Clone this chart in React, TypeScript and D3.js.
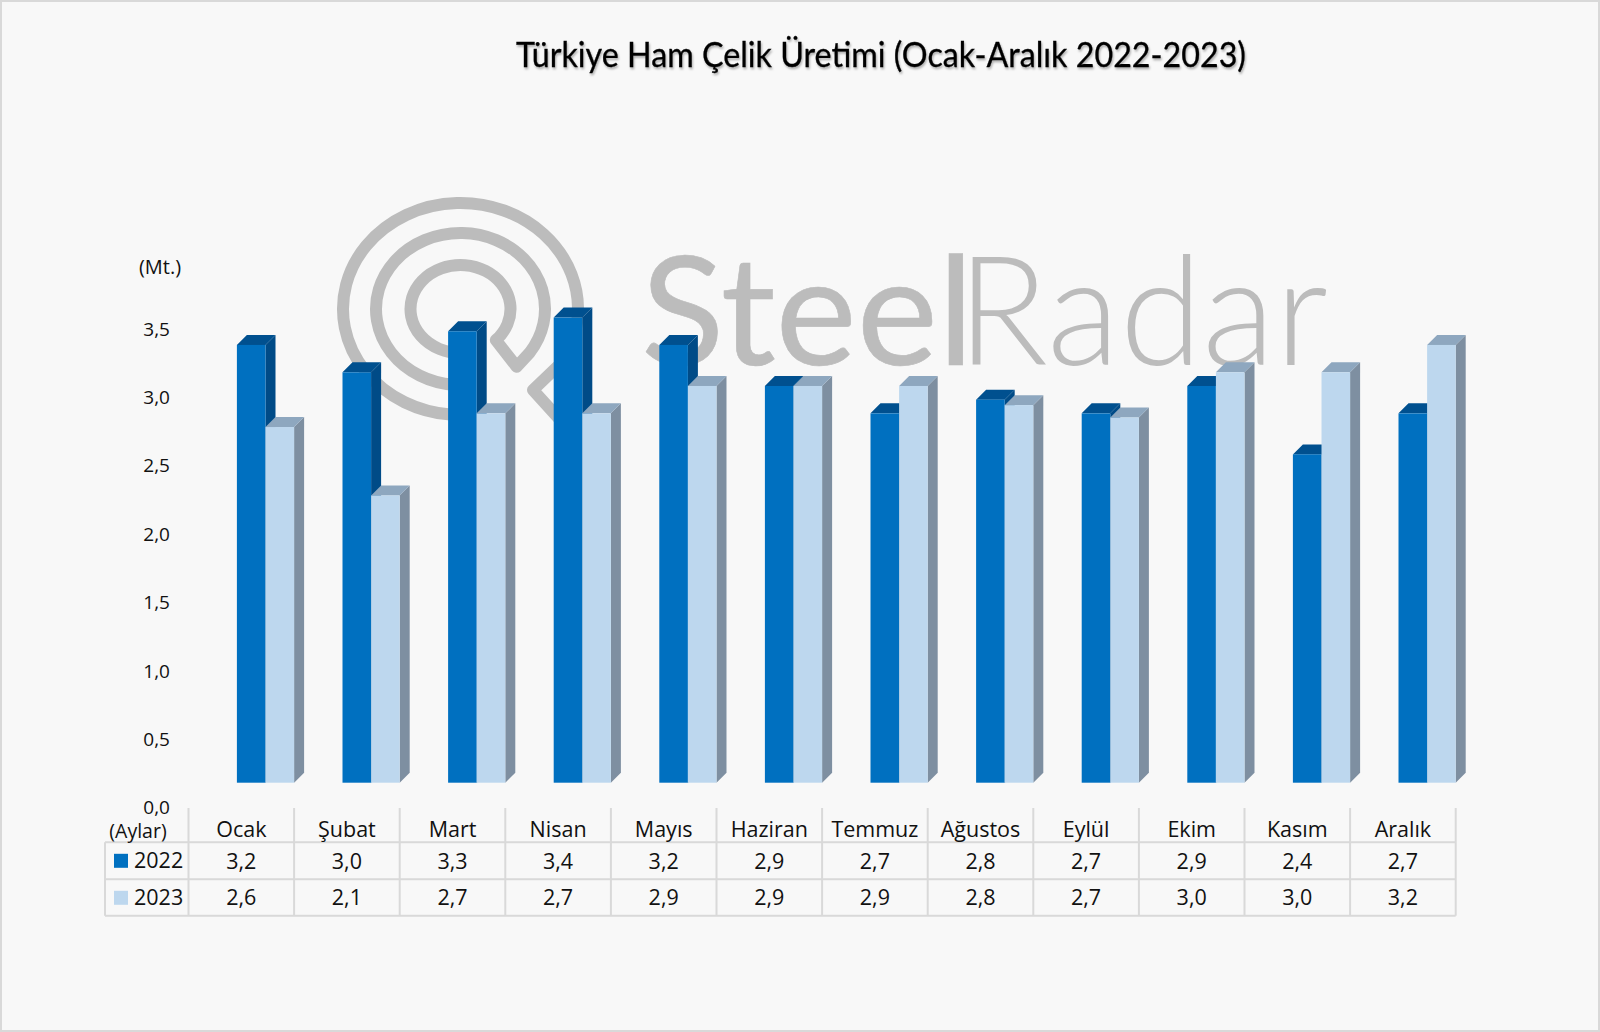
import { useEffect, useRef } from 'react';
import * as d3 from 'd3';

const months = ['Ocak', 'Şubat', 'Mart', 'Nisan', 'Mayıs', 'Haziran', 'Temmuz', 'Ağustos', 'Eylül', 'Ekim', 'Kasım', 'Aralık'];
const values2022 = [3.2, 3.0, 3.3, 3.4, 3.2, 2.9, 2.7, 2.8, 2.7, 2.9, 2.4, 2.7];
const values2023 = [2.6, 2.1, 2.7, 2.7, 2.9, 2.9, 2.9, 2.76, 2.67, 3.0, 3.0, 3.2];
const yTicks = [0, 0.5, 1, 1.5, 2, 2.5, 3, 3.5];
const seriesNames = ['2022', '2023'];

const colors = [
    { front: '#0070c0', top: '#00508f', side: '#004b87' },
    { front: '#bdd7ee', top: '#8ea7bf', side: '#7e8fa1' }
];

const font = '"Open Sans", sans-serif';
const comma = (v: number) => d3.format('.1f')(v).replace('.', ',');

// point on the logo's squashed rings
const ring = (rx: number, ry: number, deg: number) => {
    const a = deg * Math.PI / 180;
    return [460.5 + rx * Math.cos(a), 309 + ry * Math.sin(a)];
};

export default function App() {
    const ref = useRef<SVGSVGElement>(null);

    useEffect(() => {
        const svg = d3.select(ref.current);
        svg.selectAll('*').remove();

        // frame
        svg.append('rect').attr('x', 1).attr('y', 1).attr('width', 1598).attr('height', 1030)
            .attr('fill', '#f8f8f8').attr('stroke', '#d9d9d9').attr('stroke-width', 2);

        // title
        svg.append('text').attr('x', 881).attr('y', 67).attr('text-anchor', 'middle')
            .attr('font-family', 'Lato, sans-serif').attr('font-size', 34).attr('font-weight', 400)
            .attr('fill', '#000').attr('stroke', '#000').attr('stroke-width', 0.3)
            .attr('textLength', 730).attr('lengthAdjust', 'spacingAndGlyphs')
            .style('filter', 'drop-shadow(1px 2px 1px rgba(0,0,0,0.3))')
            .text('Türkiye Ham Çelik Üretimi (Ocak-Aralık 2022-2023)');

        // watermark logo, sits behind the bars
        const logo = svg.append('g').attr('fill', 'none').attr('stroke', '#bcbcbc')
            .attr('stroke-width', 12).attr('stroke-linecap', 'round').attr('stroke-linejoin', 'round');
        const i0 = ring(50, 44, 90), i1 = ring(50, 44, 45);
        const m0 = ring(84.5, 76, 35), m1 = ring(84.5, 76, 95);
        const o0 = ring(117.5, 106, 95), o1 = ring(117.5, 106, 30);
        logo.append('path').attr('d',
            `M${i0} A50 44 0 1 1 ${i1} L516.7 366.7 L${m0} A84.5 76 0 1 0 ${m1}`);
        logo.append('path').attr('d',
            `M${o0} A117.5 106 0 1 1 ${o1} L533 390 L562 422`);

        const wm = svg.append('g').attr('fill', '#bcbcbc').attr('font-family', 'Lato, sans-serif').attr('font-size', 152);
        wm.append('text').attr('x', 641).attr('y', 365).attr('font-weight', 400)
            .attr('stroke', '#bcbcbc').attr('stroke-width', 0.6)
            .attr('textLength', 333).attr('lengthAdjust', 'spacingAndGlyphs').text('Steel');
        wm.append('text').attr('x', 957).attr('y', 365).attr('font-weight', 300)
            .attr('textLength', 371).attr('lengthAdjust', 'spacingAndGlyphs').text('Radar');

        // scales
        const baseY = 782.7;
        const y = d3.scaleLinear().domain([0, 3.5]).range([baseY, 303.9]);
        const x = d3.scaleBand<string>().domain(months).range([188.5, 1455.7]);
        const barW = 28.6;
        const depth = 10;
        const tickShift = 25; // the 3D floor pushes the axis labels below the front face

        // y axis labels
        svg.append('g').selectAll('text').data(yTicks).join('text')
            .attr('x', 170).attr('y', d => y(d) + tickShift).attr('dy', '0.35em').attr('text-anchor', 'end')
            .attr('font-family', font).attr('font-size', 19).attr('fill', '#111')
            .text(d => comma(d));

        svg.append('text').attr('x', 160).attr('y', 266.5).attr('dy', '0.35em').attr('text-anchor', 'middle')
            .attr('font-family', font).attr('font-size', 20).attr('fill', '#111').text('(Mt.)');

        // bars
        const drawSeries = (vals: number[], s: number) => {
            const g = svg.append('g');
            const c = colors[s];
            months.forEach((m, i) => {
                const x0 = (x(m) as number) + x.bandwidth() - barW * (2 - s);
                const top = y(vals[i]);
                g.append('path').attr('fill', c.side)
                    .attr('d', d3.line()([[x0 + barW, top], [x0 + barW + depth, top - depth], [x0 + barW + depth, baseY - depth], [x0 + barW, baseY]]) + 'Z');
                g.append('path').attr('fill', c.top)
                    .attr('d', d3.line()([[x0, top], [x0 + depth, top - depth], [x0 + barW + depth, top - depth], [x0 + barW, top]]) + 'Z');
                g.append('rect').attr('x', x0).attr('y', top).attr('width', barW).attr('height', baseY - top).attr('fill', c.front);
            });
        };
        drawSeries(values2022, 0);
        drawSeries(values2023, 1);

        // data table
        const rows = [842.3, 879.3, 915.7];
        const left = 105;
        const top = 808;
        const right = x.range()[1];
        const grid = svg.append('g').attr('stroke', '#d9d9d9').attr('stroke-width', 2);
        rows.forEach(r => grid.append('line').attr('x1', left).attr('x2', right).attr('y1', r).attr('y2', r));
        grid.append('line').attr('x1', left).attr('x2', left).attr('y1', rows[0]).attr('y2', rows[2]);
        [...months.map(m => x(m) as number), right].forEach(v =>
            grid.append('line').attr('x1', v).attr('x2', v).attr('y1', top).attr('y2', rows[2]));

        const cell = (tx: number, ty: number, t: string, anchor = 'middle', size = 21.5) =>
            svg.append('text').attr('x', tx).attr('y', ty).attr('dy', '0.35em').attr('text-anchor', anchor)
                .attr('font-family', font).attr('font-size', size).attr('fill', '#111').text(t);

        cell(138, 831, '(Aylar)', 'middle', 19.5);
        months.forEach((m, i) => {
            const cx = (x(m) as number) + x.bandwidth() / 2;
            cell(cx, 829, m);
            cell(cx, 861, comma(values2022[i]));
            cell(cx, 897, comma(values2023[i]));
        });

        // legend keys
        seriesNames.forEach((n, i) => {
            const ry = rows[i] + 18.5;
            svg.append('rect').attr('x', 114).attr('y', ry - 7).attr('width', 14).attr('height', 14).attr('fill', colors[i].front);
            cell(134, ry, n, 'start');
        });
    }, []);

    return <svg ref={ref} width={1600} height={1032} style={{ position: 'absolute', left: 0, top: 0, background: '#fff' }} />;
}
